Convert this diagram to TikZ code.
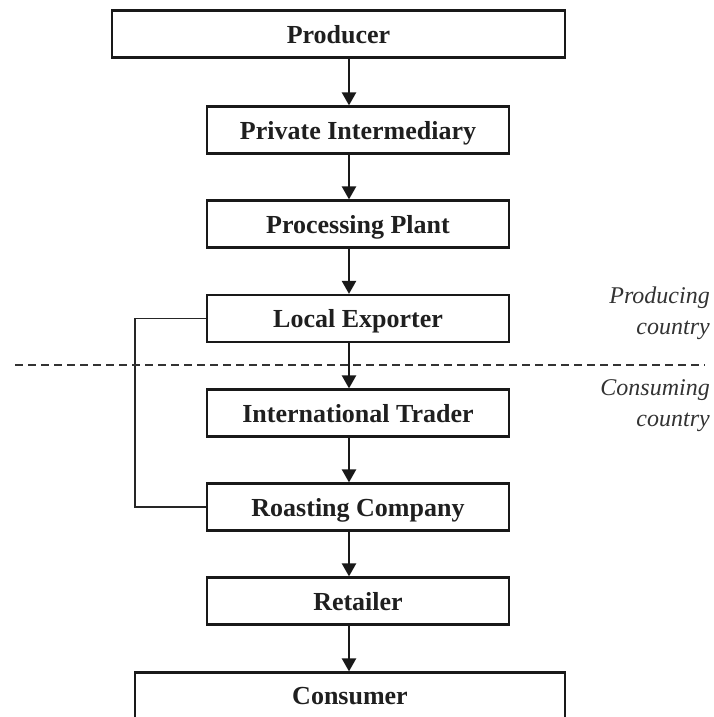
\documentclass[tikz,border=0pt]{standalone}
\usepackage{fontspec}
\setmainfont{Liberation Serif}
\usetikzlibrary{arrows.meta}
\tikzset{
  stagebox/.style={draw=black!90, line width=2.2pt, minimum height=47pt, inner sep=0pt,
    text depth=0pt, font=\fontsize{26}{30}\selectfont\bfseries, text=black!88},
  flow/.style={line width=2.3pt, draw=black!90, -{Triangle[width=14pt,length=13pt]}},
  bracketline/.style={line width=1.5pt, draw=black!85},
  divider/.style={line width=1.6pt, draw=black!80, dash pattern=on 8pt off 5pt},
  sidelabel/.style={font=\fontsize{24}{31}\selectfont\itshape, text=black!80, align=right, anchor=east, inner sep=0pt}
}
\begin{document}
\begin{tikzpicture}[x=1pt,y=-1pt]
\useasboundingbox (0,0) rectangle (713,717);
\clip (0,0) rectangle (713,717);
\fill[white] (0,0) rectangle (713,717);
\coordinate (ax) at (349,0);
\node[stagebox, minimum width=453pt] (prod) at (338.5,34) {Producer};
\node[stagebox, minimum width=302pt] (pi) at (358,130) {Private Intermediary};
\node[stagebox, minimum width=302pt] (pp) at (358,224) {Processing Plant};
\node[stagebox, minimum width=302pt] (le) at (358,318.5) {Local Exporter};
\node[stagebox, minimum width=302pt] (it) at (358,413) {International Trader};
\node[stagebox, minimum width=302pt] (rc) at (358,507) {Roasting Company};
\node[stagebox, minimum width=302pt] (ret) at (358,601) {Retailer};
\node[stagebox, minimum width=430pt] (con) at (350,696) {Consumer};
\draw[flow] (prod.south -| ax) -- (pi.north -| ax);
\draw[flow] (pi.south -| ax) -- (pp.north -| ax);
\draw[flow] (pp.south -| ax) -- (le.north -| ax);
\draw[flow] (le.south -| ax) -- (it.north -| ax);
\draw[flow] (it.south -| ax) -- (rc.north -| ax);
\draw[flow] (rc.south -| ax) -- (ret.north -| ax);
\draw[flow] (ret.south -| ax) -- (con.north -| ax);
\coordinate (bx) at (135,0);
\draw[bracketline] (le.west) -- (le.west -| bx) -- (rc.west -| bx) -- (rc.west);
\coordinate (dl) at (15,365);
\coordinate (dr) at (705,365);
\draw[divider] (dl) -- (dr);
\node[sidelabel] (plab) at (710,313) {Producing\\country};
\node[sidelabel] (clab) at (710,406) {Consuming\\country};
\end{tikzpicture}
\end{document}
